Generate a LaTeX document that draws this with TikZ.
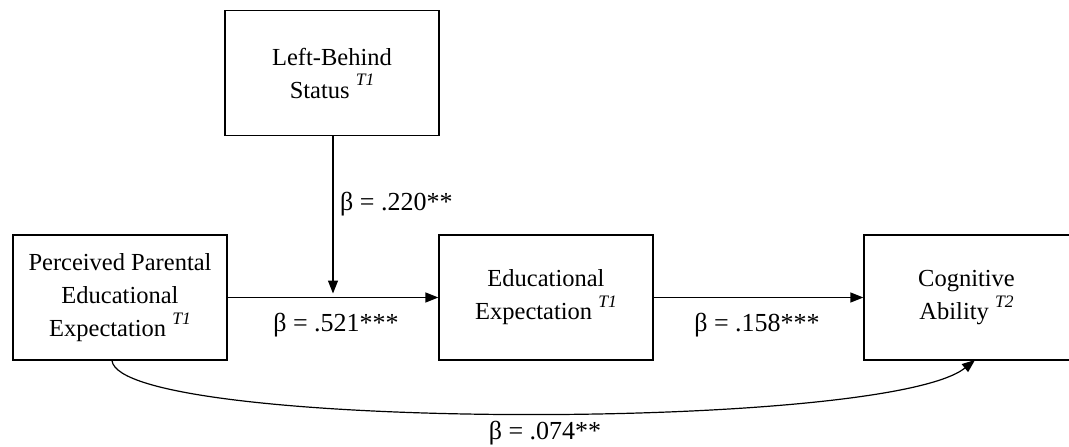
\documentclass[tikz,border=0pt]{standalone}
\usepackage{fontspec}
\setmainfont{Liberation Serif}
\usetikzlibrary{arrows.meta,calc}
\begin{document}
\begin{tikzpicture}[x=1pt,y=1pt,
  box/.style={draw, line width=1.2pt, minimum width=214pt, minimum height=125pt,
    inner sep=0pt, align=center, font=\fontsize{24.5}{33}\selectfont},
  lbl/.style={font=\fontsize{26}{30}\selectfont, inner sep=0pt},
  conn/.style={line width=1.2pt, -{Triangle[length=13pt,width=10pt]}}]
\newcommand{\tsup}[1]{ \raisebox{0.5em}{\fontsize{17.5}{18}\selectfont\itshape #1}}
\useasboundingbox (0,0) rectangle (1069,-447);
\node[box] (lb) at (332,-73) {Left-Behind\\Status\tsup{T1}};
\node[box] (ppe) at (120,-297.5) {Perceived Parental\\Educational\\Expectation\tsup{T1}};
\node[box] (ee) at (546,-297.5) {Educational\\Expectation\tsup{T1}};
\node[box, minimum width=240pt] (ca) at (984,-297.5) {\hspace*{-35pt}Cognitive\\\hspace*{-35pt}Ability\tsup{T2}};
\coordinate (j) at (333,-297.5);
\draw[conn, shorten >=4pt] (lb.south -| j) -- (j);
\draw[conn] (ppe.east) -- (ee.west);
\draw[conn] (ee.east) -- (ca.west);
\coordinate (cs) at ($(ppe.south)+(-8,0)$);
\coordinate (ce) at (975,-360);
\draw[conn] (cs) .. controls ($(cs)+(8,-70)$) and ($(ce)+(-90,-72)$) .. (ce);
\node[lbl, anchor=base west] (l1) at (340,-210) {β = .220**};
\node[lbl] (l2) at (336,-325) {β = .521***};
\node[lbl] (l3) at (757,-325) {β = .158***};
\node[lbl] (l4) at (545,-433) {β = .074**};
\end{tikzpicture}
\end{document}
